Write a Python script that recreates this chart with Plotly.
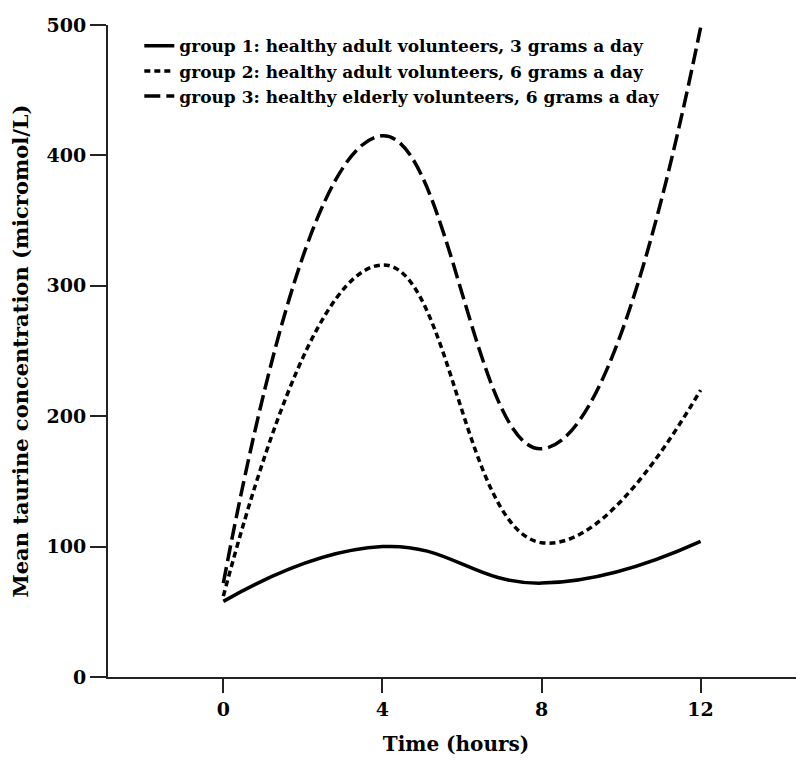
import plotly.graph_objects as go

hours = [0, 4, 8, 12]
group1 = [58, 100, 72, 104]
group2 = [62, 316, 103, 220]
group3 = [72, 415, 175, 498]
names = [
    "group 1: healthy adult volunteers, 3 grams a day",
    "group 2: healthy adult volunteers, 6 grams a day",
    "group 3: healthy elderly volunteers, 6 grams a day",
]
dashes = ["solid", "6px,4px", "16px,6px"]
x_ticks = [0, 4, 8, 12]
y_ticks = [0, 100, 200, 300, 400, 500]

FONT = "DejaVu Serif"

fig = go.Figure()
for i, (ys, nm, ds) in enumerate(zip([group1, group2, group3], names, dashes)):
    fig.add_trace(go.Scatter(
        x=hours, y=ys, name=nm, mode="lines",
        line=dict(color="black", width=3.5, dash=ds, shape="spline", smoothing=1.3),
        legendgroup=f"g{i}", hoverinfo="skip", cliponaxis=False,
    ))

# page body has an 8px margin, so the figure is drawn 8px smaller and shifted
fig.update_layout(
    width=796, height=754,
    margin=dict(l=100, r=0, t=17, b=85),
    paper_bgcolor="white", plot_bgcolor="white",
    font=dict(family=FONT, color="black", size=19),
    showlegend=True,
    legend=dict(
        x=0.045, y=0.995, xanchor="left", yanchor="top",
        bgcolor="rgba(0,0,0,0)", tracegroupgap=0,
        font=dict(family=FONT, size=17, color="black", weight="bold"),
        itemwidth=30,
    ),
)
fig.update_xaxes(
    range=[-2.9, 14.6], tickvals=x_ticks, ticktext=[str(v) for v in x_ticks],
    showgrid=False, zeroline=False,
    showline=True, linecolor="#222", linewidth=2,
    ticks="outside", ticklen=14, tickwidth=1.5, tickcolor="#222",
    tickfont=dict(family=FONT, size=19, weight="bold"),
    title=dict(text="Time (hours)", font=dict(family=FONT, size=20, weight="bold"), standoff=18),
)
fig.update_yaxes(
    range=[0, 500], tickvals=y_ticks, ticktext=[str(v) for v in y_ticks],
    showgrid=False, zeroline=False,
    showline=True, linecolor="#222", linewidth=2,
    ticks="outside", ticklen=16, tickwidth=1.5, tickcolor="#222",
    tickfont=dict(family=FONT, size=19, weight="bold"),
    title=dict(text="Mean taurine concentration (micromol/L)", font=dict(family=FONT, size=21, weight="bold"), standoff=14),
)

fig.write_html("out.html")
